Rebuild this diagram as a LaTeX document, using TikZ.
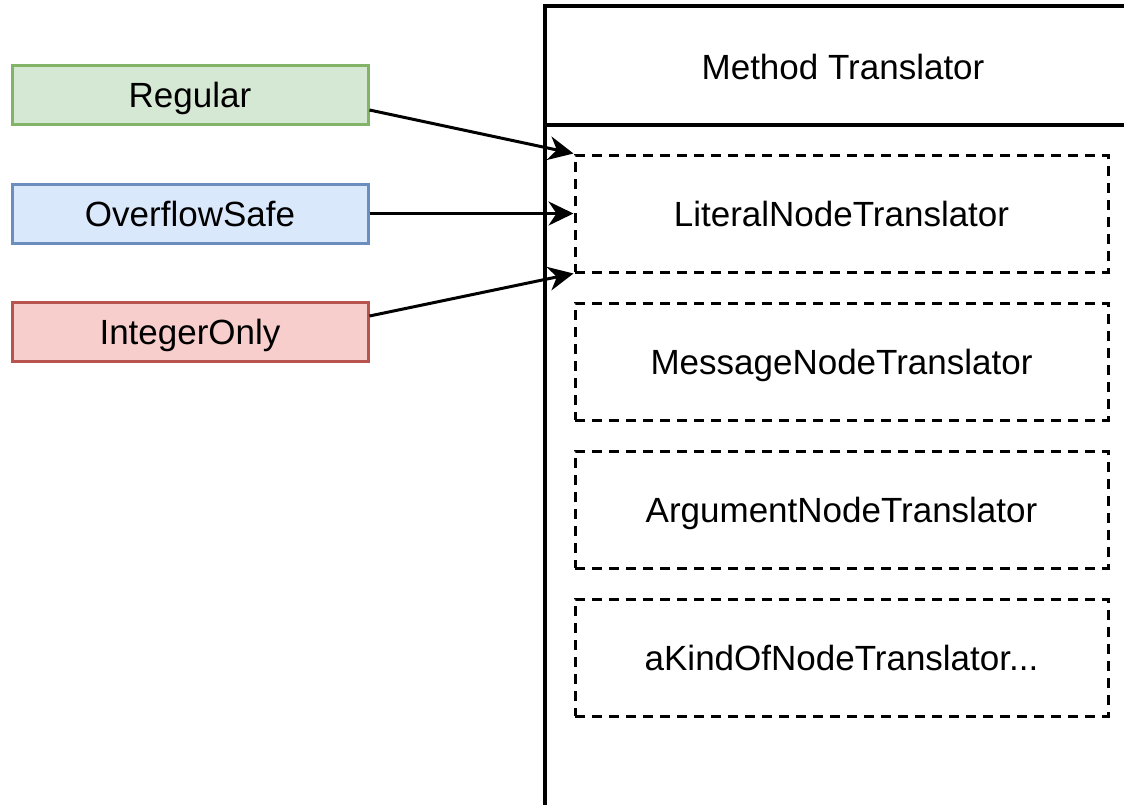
\documentclass[tikz,border=0pt]{standalone}
\usepackage{fontspec}
\setmainfont{Liberation Sans}
\usetikzlibrary{arrows.meta}
\definecolor{gfill}{HTML}{D5E8D4}\definecolor{gline}{HTML}{82B366}
\definecolor{bfill}{HTML}{DAE8FC}\definecolor{bline}{HTML}{6C8EBF}
\definecolor{rfill}{HTML}{F8CECC}\definecolor{rline}{HTML}{B85450}
\tikzset{
  txt/.style={font=\fontsize{35}{42}\selectfont, text height=25pt, text depth=0pt},
  colbox/.style={txt, draw, line width=3pt, minimum width=356pt, minimum height=59pt, inner sep=0pt},
  dbox/.style={txt, draw, line width=3pt, dash pattern=on 10pt off 7pt, minimum width=533pt, minimum height=117pt, inner sep=0pt},
  outer/.style={line width=3.3pt},
  conn/.style={line width=3pt, -{Stealth[length=25pt, width=24pt, inset=8pt]}}
}
\begin{document}
\begin{tikzpicture}[x=1pt, y=-1pt]
\clip (0,0) rectangle (1124,804);
\fill[white] (0,0) rectangle (1124,804);
% outer container
\draw[outer] (1141,6) -- (545,6) -- (545,830);
\draw[outer] (1141,6) -- (1141,830);
\draw[outer] (545,125) -- (1141,125);
\node[txt] (title) at (843,67) {Method Translator};
% variant boxes
\node[colbox, fill=gfill, draw=gline] (reg) at (190,95) {Regular};
\node[colbox, fill=bfill, draw=bline] (ovf) at (190,213.5) {OverflowSafe};
\node[colbox, fill=rfill, draw=rline] (int) at (190,331.5) {IntegerOnly};
% translators
\node[dbox] (lit) at (841.5,213.5) {LiteralNodeTranslator};
\node[dbox] (msg) at (841.5,361.5) {MessageNodeTranslator};
\node[dbox] (arg) at (841.5,509.5) {ArgumentNodeTranslator};
\node[dbox] (kind) at (841.5,657.5) {aKindOfNodeTranslator...};
% connectors
\draw[conn] ([yshift=-15pt]reg.east) -- (lit.north west);
\draw[conn] (ovf.east) -- (lit.west);
\draw[conn] ([yshift=15.5pt]int.east) -- (lit.south west);
\end{tikzpicture}
\end{document}
